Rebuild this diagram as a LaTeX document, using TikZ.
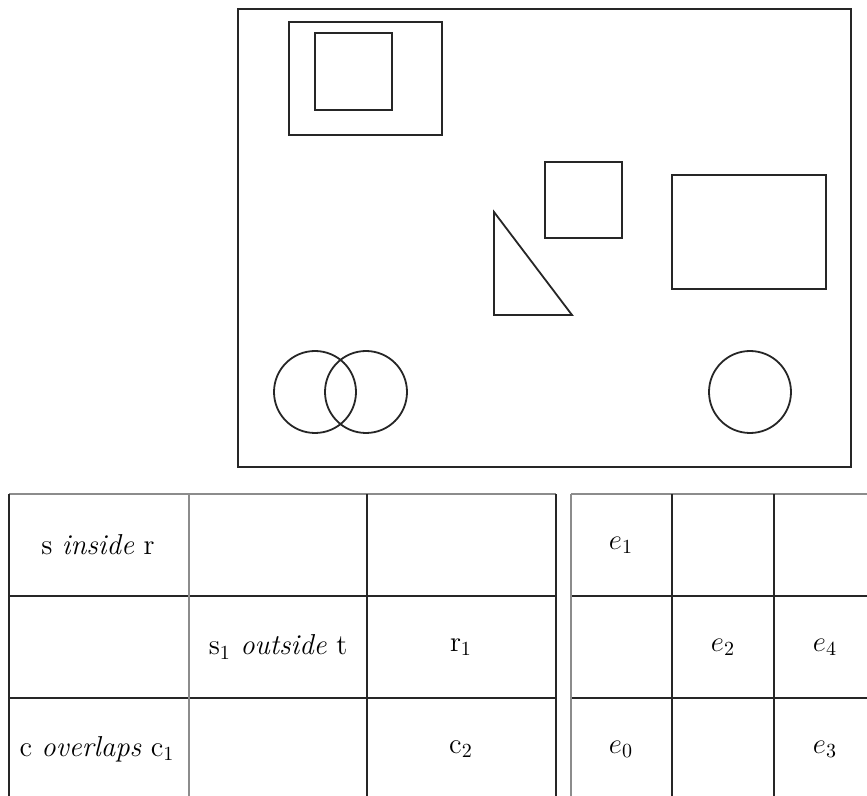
\documentclass[tikz,border=0pt]{standalone}
\usepackage{tikz}
\usetikzlibrary{positioning}

\begin{document}
\begin{tikzpicture}[x=0.5pt, y=-0.5pt,
        shape_line/.style={draw=black!85, line width=0.9pt},
        thin_line/.style={draw=black!60, line width=0.6pt},
        grid_line/.style={draw=black!85, line width=0.75pt},
        soft_line/.style={draw=black!45, line width=0.7pt},
        cell/.style={font=\Large, inner sep=0pt, anchor=center}
    ]%
        \useasboundingbox (0,0) rectangle (867,796);
        \clip (0,0) rectangle (867,796);
        % ================= ESCENA (MARCO SUPERIOR) =================
        \draw[shape_line] (238,9) rectangle (851,467);
        % r con s dentro
        \draw[shape_line] (289,22) rectangle (442,135);
        \draw[shape_line] (315,33) rectangle (392,110);
        % t (cuadrado) y s1 (triangulo)
        \draw[shape_line] (545,162) rectangle (622,238);
        \draw[shape_line] (494,212) -- (494,315) -- (572,315) -- cycle;
        % r1 (rectangulo grande)
        \draw[shape_line] (672,175) rectangle (826,289);
        % c, c1 (se solapan) y c2
        \draw[shape_line] (315,392) circle[radius=41];
        \draw[shape_line] (366,392) circle[radius=41];
        \draw[shape_line] (750,392) circle[radius=41];
        % ================= TABLA IZQUIERDA (RELACIONES) =================
        \draw[soft_line] (9,494) -- (556,494);
        \draw[grid_line] (9,596) -- (556,596);
        \draw[grid_line] (9,698) -- (556,698);
        \draw[grid_line] (9,494) -- (9,800);
        \draw[soft_line] (189,494) -- (189,800);
        \draw[grid_line] (367,494) -- (367,800);
        \draw[grid_line] (556,494) -- (556,800);
        \node[cell] (inside) at (98,545) {s \textit{inside} r};
        \node[cell] (outside) at (278,647) {s$_1$ \textit{outside} t};
        \node[cell] (rone) at (461,647) {r$_1$};
        \node[cell] (overlaps) at (97,749) {c \textit{overlaps} c$_1$};
        \node[cell] (ctwo) at (461,749) {c$_2$};
        % ================= TABLA DERECHA (ELEMENTOS) =================
        \draw[soft_line] (571,494) -- (870,494);
        \draw[grid_line] (571,596) -- (870,596);
        \draw[grid_line] (571,698) -- (870,698);
        \draw[soft_line] (571,494) -- (571,800);
        \draw[grid_line] (672,494) -- (672,800);
        \draw[grid_line] (774,494) -- (774,800);
        \node[cell] (eone) at (621,545) {$e_1$};
        \node[cell] (etwo) at (723,647) {$e_2$};
        \node[cell] (efour) at (825,647) {$e_4$};
        \node[cell] (ezero) at (621,749) {$e_0$};
        \node[cell] (ethree) at (825,749) {$e_3$};
    \end{tikzpicture}
\end{document}
